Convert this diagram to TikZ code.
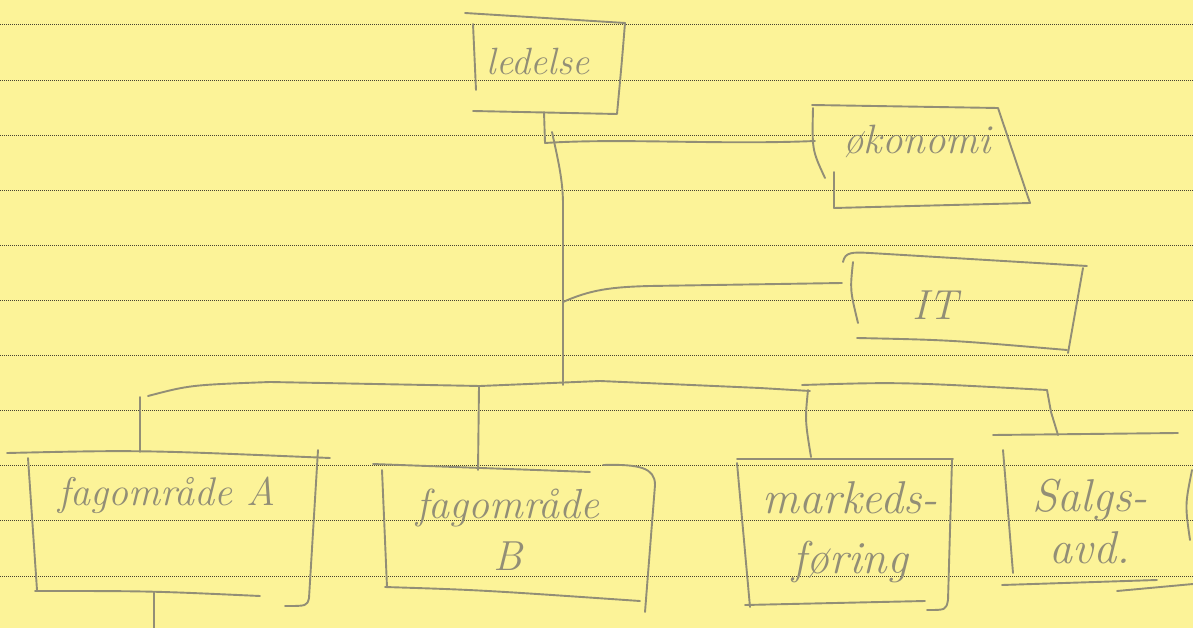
\documentclass[tikz,border=0pt]{standalone}
\definecolor{paper}{RGB}{252,243,152}
\definecolor{rule}{RGB}{70,66,50}
\definecolor{pencil}{RGB}{146,142,118}
\begin{document}
\begin{tikzpicture}[x=1pt,y=-1pt,
  pencil/.style={draw=pencil,line width=1.9pt,line cap=round,line join=round},
  hand/.style={text=pencil,align=center,inner sep=0pt},
  hsize/.style 2 args={font=\fontsize{#1}{#2}\selectfont\itshape},
  ruled/.style={draw=rule,line width=1pt,dash pattern=on 0.9pt off 1.1pt}]
% paper and its ruling
\fill[paper] (0,0) rectangle (1193,628);
\useasboundingbox (0,0) rectangle (1193,628);
\foreach \k in {0,...,10}
  \draw[ruled] (0,{25+55.1*\k}) -- (1193,{25+55.1*\k});

% ---- labels ----
\node[hand,hsize={38}{44}] (ledelse) at (538,62) {ledelse};
\node[hand,hsize={41}{48}] (okonomi) at (917,141) {økonomi};
\node[hand,hsize={42}{48}] (it) at (935,305) {IT};
\node[hand,hsize={40}{48}] (fagA) at (167,495) {fagområde A};
\node[hand,hsize={42}{52}] (fagB) at (508,530) {fagområde\\B};
\node[hand,hsize={46}{60}] (mark) at (850,532) {markeds-\\føring};
\node[hand,hsize={46}{52}] (salg) at (1090,522) {Salgs-\\avd.};

% ---- box outlines ----
% ledelse
\draw[pencil] (465,13) -- (625,23) .. controls (622,60) .. (617,114) -- (473,111);
\draw[pencil] (473,24) -- (476,90);
% okonomi
\draw[pencil] (834,172) -- (834,208) -- (1030,203) -- (998,108) -- (812,105);
\draw[pencil] (813,108) .. controls (812,150) .. (825,178);
% IT
\draw[pencil] (843,262) .. controls (845,252) and (852,252) .. (870,253) -- (1087,266);
\draw[pencil] (1083,268) -- (1068,353);
\draw[pencil] (857,338) .. controls (950,340) .. (1067,350);
\draw[pencil] (853,262) .. controls (850,290) .. (858,323);
% fagomrade A
\draw[pencil] (7,453) .. controls (140,450) .. (330,458);
\draw[pencil] (28,458) -- (37,590);
\draw[pencil] (35,591) .. controls (150,591) .. (260,596);
\draw[pencil] (318,450) -- (309,598) .. controls (307,606) .. (285,606);
% fagomrade B
\draw[pencil] (373,464) -- (590,472);
\draw[pencil] (603,465) .. controls (640,464) and (655,468) .. (655,485) -- (645,612);
\draw[pencil] (382,470) -- (387,587);
\draw[pencil] (385,587) .. controls (480,590) .. (640,601);
% markedsforing
\draw[pencil] (737,459) -- (953,459);
\draw[pencil] (737,463) -- (750,607);
\draw[pencil] (745,605) -- (925,601);
\draw[pencil] (952,460) -- (948,600) .. controls (946,610) .. (927,610);
% salgsavd
\draw[pencil] (993,435) -- (1178,433);
\draw[pencil] (1003,450) -- (1013,573);
\draw[pencil] (1002,585) -- (1157,580);
\draw[pencil] (1117,591) -- (1193,584);
\draw[pencil] (1192,470) .. controls (1185,505) .. (1190,540);

% ---- connection points ----
\coordinate (led-s) at (544,112);
\coordinate (led-j) at (545,143);
\coordinate (oko-w) at (815,141);
\coordinate (trunk-top) at (552,132);
\coordinate (trunk-bot) at (563,385);
\coordinate (it-j) at (563,302);
\coordinate (it-w) at (842,283);
\coordinate (busL) at (148,396);
\coordinate (busM) at (810,391);
\coordinate (bus2L) at (802,385);
\coordinate (busR) at (1047,390);
\coordinate (dropA) at (140,397);
\coordinate (A-n) at (140,452);
\coordinate (dropB) at (479,386);
\coordinate (B-n) at (478,470);
\coordinate (dropM) at (808,390);
\coordinate (M-n) at (811,457);
\coordinate (S-n) at (1058,435);
\coordinate (A-s) at (154,592);
\coordinate (A-down) at (154,628);

% ---- connectors ----
\draw[pencil] (led-s) -- (led-j) .. controls (620,138) and (720,145) .. (oko-w);
\draw[pencil] (trunk-top) .. controls (558,160) and (563,180) .. (563,205) -- (trunk-bot);
\draw[pencil] (it-j) .. controls (590,290) and (610,287) .. (650,286) -- (it-w);
\draw[pencil] (busL) .. controls (190,385) .. (270,382) -- (480,386) -- (600,381) -- (760,388) -- (busM);
\draw[pencil] (bus2L) .. controls (900,382) .. (busR);
\draw[pencil] (dropA) -- (A-n);
\draw[pencil] (dropB) -- (B-n);
\draw[pencil] (dropM) .. controls (805,420) .. (M-n);
\draw[pencil] (busR) -- (1051,412) -- (S-n);
\draw[pencil] (A-s) -- (A-down);
\end{tikzpicture}
\end{document}
